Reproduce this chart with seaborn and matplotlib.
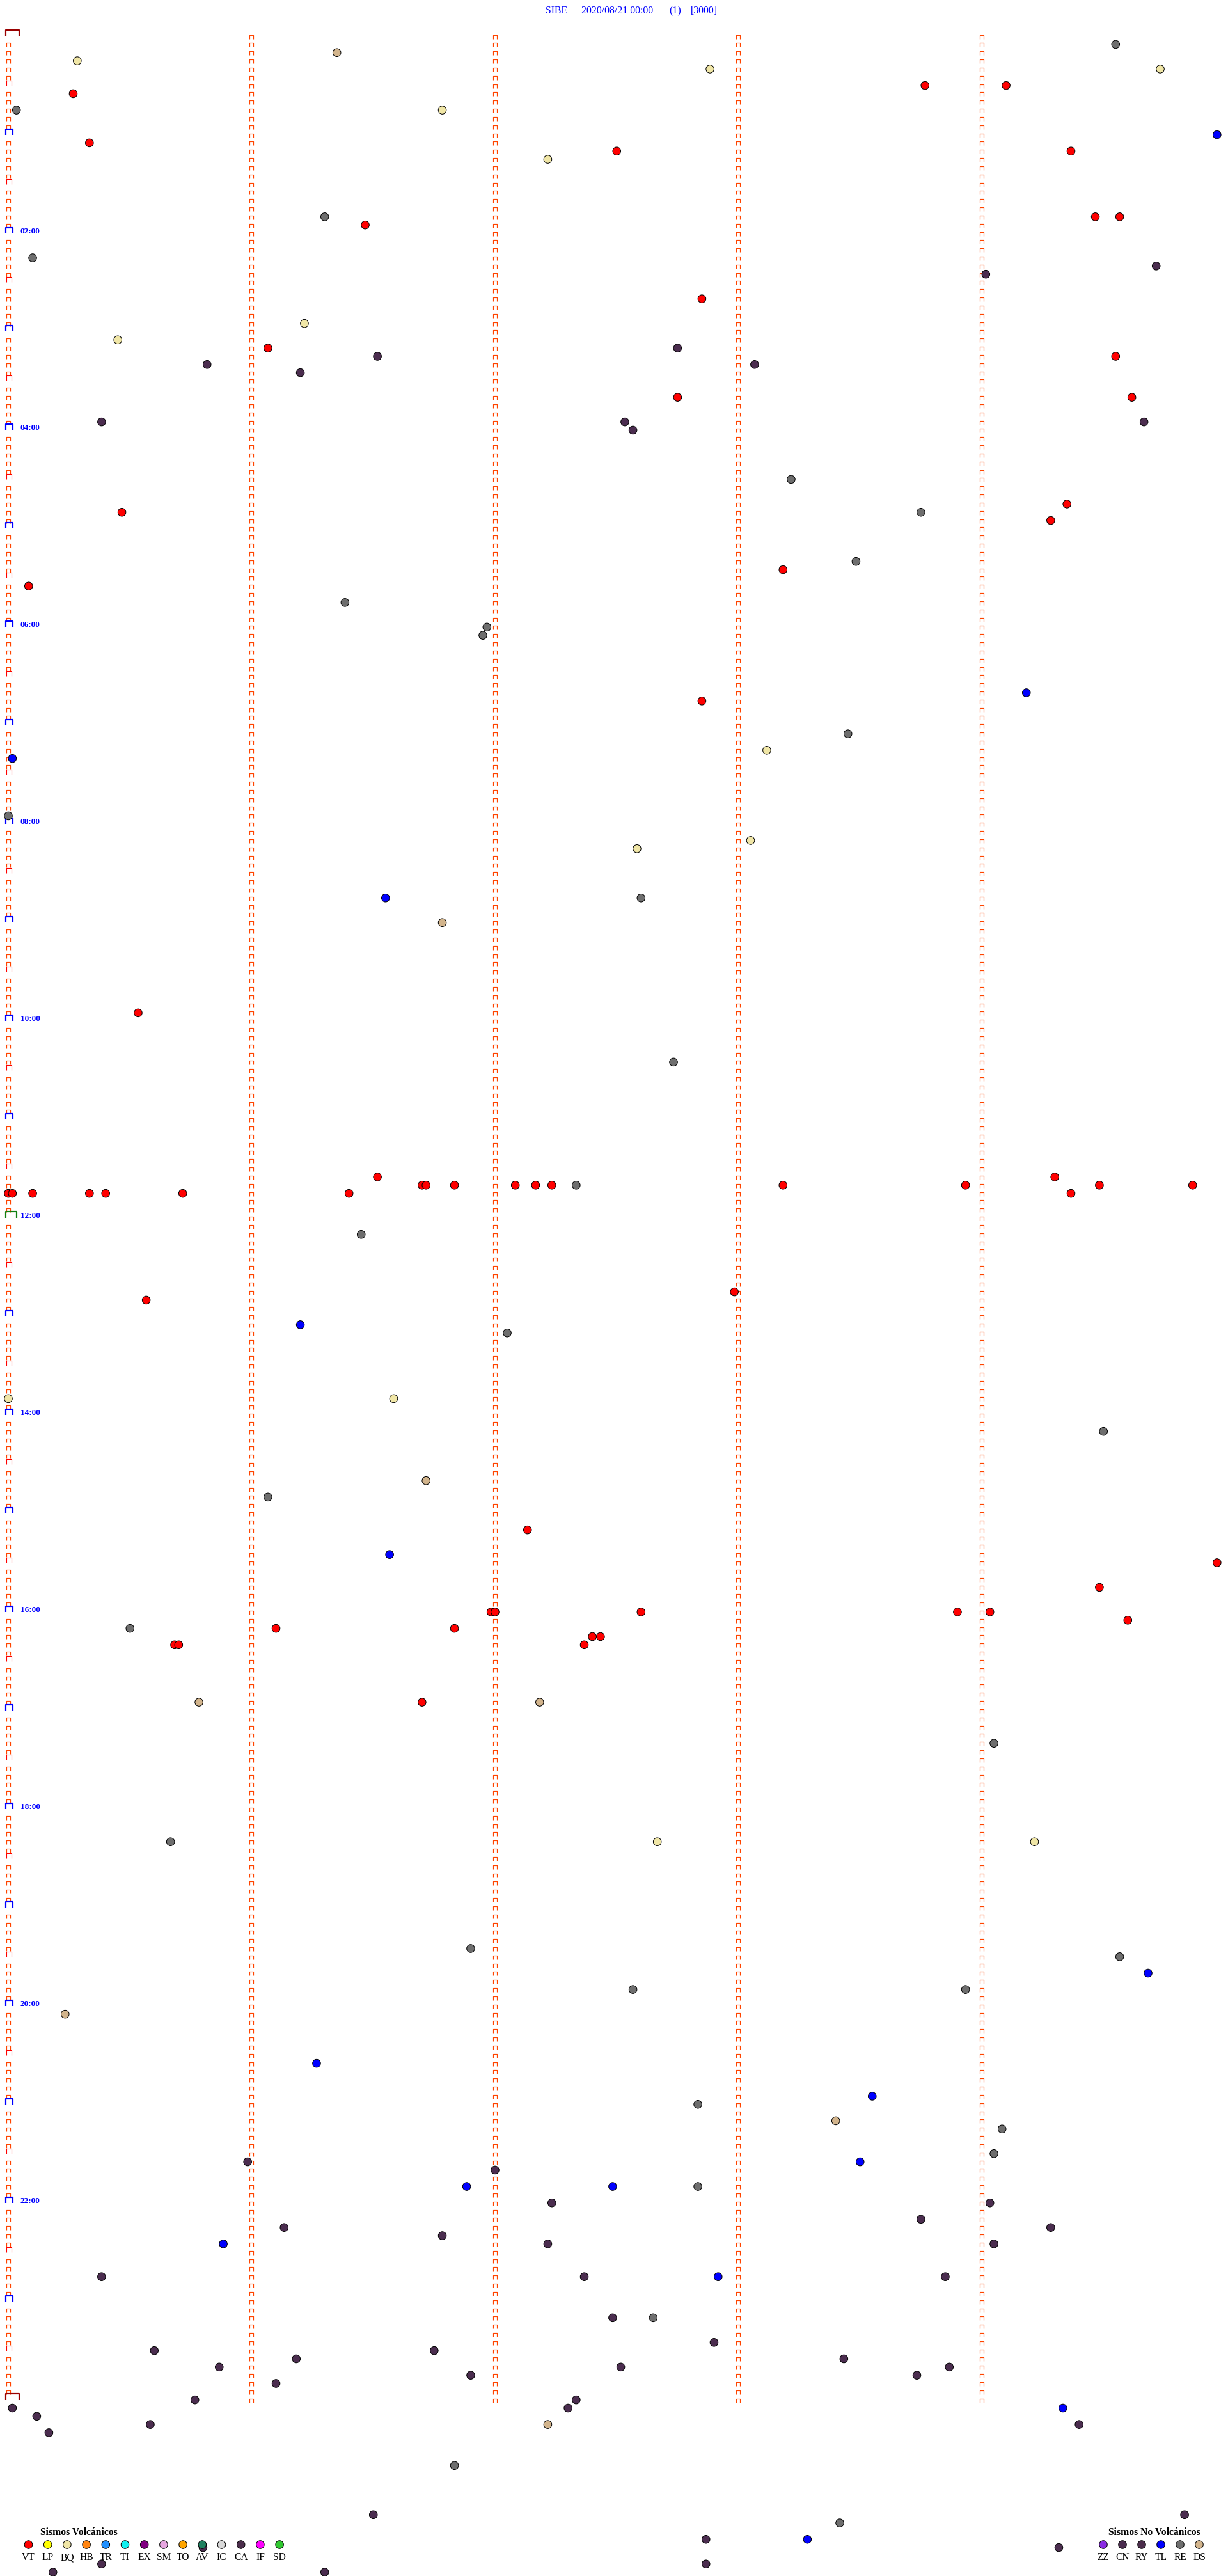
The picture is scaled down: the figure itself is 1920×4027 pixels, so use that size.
import matplotlib
matplotlib.use("Agg")
import matplotlib.pyplot as plt
import numpy as np
import pandas as pd
import seaborn as sns
from matplotlib.path import Path

W, H, DPI = 1920, 4027, 100
PT = 72 / DPI  # points per pixel

# header
station = "SIBE"
start_stamp = "2020/08/21 00:00"
component = "(1)"
gain_label = "[3000]"

# legend categories
volc_codes = ["VT", "LP", "BQ", "HB", "TR", "TI", "EX", "SM", "TO", "AV", "IC", "CA", "IF", "SD"]
volc_colors = ["#FF0000", "#FFFF00", "#F0E6A6", "#FF8410", "#2090FF", "#10F0F0", "#800080",
               "#E6A6E0", "#FFA500", "#208060", "#D8D8D8", "#4B2D4B", "#FF00FF", "#30C830"]
novolc_codes = ["ZZ", "CN", "RY", "TL", "RE", "DS"]
novolc_colors = ["#8A2BE2", "#4B2D4F", "#4B2D4B", "#0000FF", "#6E6E6E", "#D2B48C"]

hour_labels = ["02:00", "04:00", "06:00", "08:00", "10:00", "12:00",
               "14:00", "16:00", "18:00", "20:00", "22:00"]

# events, HH:MM:SS (each drum row is 5 minutes)
vt_times = [
    "00:33:46", "00:34:06", "00:35:16", "01:05:20", "01:12:30", "01:14:22",
    "01:54:28", "01:54:34", "01:56:28", "02:42:51", "03:11:04", "03:19:33",
    "03:42:45", "03:44:37", "04:49:21", "04:50:28", "04:59:17", "05:28:11",
    "05:35:05", "06:47:51", "09:55:32", "11:36:31", "11:39:18",
    "11:41:42", "11:41:43", "11:41:50", "11:42:05", "11:42:10", "11:42:14",
    "11:43:11", "11:43:56", "11:44:29", "11:44:52",
    "11:45:00", "11:45:01", "11:45:06", "11:45:20", "11:45:24", "11:45:43",
    "11:46:24", "11:49:22", "12:47:59", "12:50:34", "15:12:08", "15:34:58",
    "15:49:29", "16:01:59", "16:02:00", "16:02:36", "16:03:54", "16:04:02",
    "16:09:36", "16:11:06", "16:11:50", "16:17:24", "16:17:26", "16:20:41",
    "16:20:42", "16:22:22", "16:56:42",
]
bq_times = [
    "00:15:17", "00:22:53", "00:24:44", "00:46:47", "01:17:13", "02:56:13",
    "03:05:27", "07:18:07", "08:13:03", "08:17:35", "13:50:00", "13:51:35",
    "18:22:40", "18:24:13",
]
re_times = [
    "00:09:33", "00:45:02", "01:51:18", "02:15:06", "04:33:13", "04:53:45",
    "05:23:29", "05:46:23", "06:01:58", "06:06:57", "07:08:27", "07:55:00",
    "08:47:36", "10:27:44", "11:42:20", "12:11:27", "13:12:03", "14:14:30",
    "14:51:04", "16:10:30", "17:24:03", "18:20:40", "19:26:54", "19:34:34",
    "19:52:34", "19:53:56", "21:02:50", "21:19:05", "21:34:03", "21:52:50",
    "23:12:39", "24:41:50", "25:18:25",
]
tl_times = [
    "01:04:58", "06:44:11", "07:20:01", "08:46:33", "13:06:12", "15:26:34",
    "19:44:41", "20:36:16", "20:58:33", "21:38:30", "21:51:53", "21:52:29",
    "22:25:53", "22:47:55", "24:09:20", "25:28:17",
]
ds_times = [
    "00:11:21", "09:01:47", "14:41:43", "16:55:47", "16:57:11", "20:05:14",
    "21:13:24", "24:17:13",
]
cn_times = [
    "02:24:43", "02:29:01", "03:12:45", "03:16:31", "03:20:49", "03:23:04",
    "03:26:12", "03:55:23", "03:57:32", "03:59:40", "04:02:34",
    "21:35:59", "21:42:00", "22:02:14", "22:04:02", "22:13:45", "22:16:08",
    "22:19:17", "22:21:47", "22:27:13", "22:29:03", "22:45:23", "22:47:22",
    "22:48:51", "23:12:29", "23:27:54", "23:30:36", "23:31:45", "23:36:11",
    "23:38:26", "23:40:52", "23:42:31", "23:43:52", "23:46:54", "23:48:44",
    "23:51:06", "24:00:46", "24:02:20", "24:05:01", "24:07:18", "24:10:07",
    "24:15:35", "24:19:24", "24:20:10", "25:11:30", "25:14:50", "25:27:52",
    "25:30:48", "25:34:19", "25:40:23", "25:42:52", "25:45:11", "25:46:18",
]

ROW_SEC = 300
N_ROWS = 288

# drum geometry (pixels)
X0, PX_SEC = 13.0, 380.5 / 60
Y0, PX_HOUR = 56.6, 12.83 * 12


def to_seconds(stamp):
    h, m, s = (int(v) for v in stamp.split(":"))
    return h * 3600 + m * 60 + s


def bracket(left, right, bottom, top):
    verts = [(left, bottom), (left, top), (right, top), (right, bottom)]
    codes = [Path.MOVETO, Path.LINETO, Path.LINETO, Path.LINETO]
    ms = 2 * np.abs(np.array(verts)).max() * PT
    return Path(verts, codes), ms


frames = []
for code, times in [("VT", vt_times), ("BQ", bq_times), ("RE", re_times),
                    ("TL", tl_times), ("DS", ds_times), ("CN", cn_times)]:
    frames.append(pd.DataFrame({"tipo": code, "t": [to_seconds(t) for t in times]}))
events = pd.concat(frames, ignore_index=True).sort_values("t", kind="stable")
events["offset"] = events["t"] % ROW_SEC
events["row_h"] = (events["t"] // ROW_SEC) * ROW_SEC / 3600

palette = dict(zip(volc_codes + novolc_codes, volc_colors + novolc_colors))

sns.set_style("white")
plt.rcParams["font.family"] = ["Liberation Serif", "DejaVu Serif"]

fig = plt.figure(figsize=(W / DPI, H / DPI), dpi=DPI)
fig.patch.set_facecolor("white")
ax = fig.add_axes([0, 0, 1, 1])
ax.axis("off")

# row marks on the drum
rows = np.arange(N_ROWS + 1)
row_h = rows / 12
small, small_ms = bracket(-3, 3, -3.6, 2.4)
for col in np.arange(60, ROW_SEC, 60):
    ax.plot(np.full(len(rows), col), row_h, ls="none", marker=small, ms=small_ms,
            mec="#FF4500", mfc="none", mew=1.2 * PT, zorder=1)

left_styles = [
    (rows % 6 != 0, bracket(-3, 3, -3.6, 2.4), "#FF4500", 1.2),
    ((rows % 6 == 0) & (rows % 12 != 0), bracket(-3.5, 4.5, 0, 8), "#FF0000", 1.1),
    ((rows % 12 == 0) & (rows % 144 != 0), bracket(-4, 7, 0, 9), "#0000FF", 2.2),
    ((rows % 144 == 0) & (rows % 288 != 0), bracket(-4, 13, 0, 10), "#118011", 2.2),
    (rows % 288 == 0, bracket(-4, 17, 0, 10), "#990000", 2.2),
]
for mask, (path, ms), color, lw in left_styles:
    ax.plot(np.zeros(mask.sum()), row_h[mask], ls="none", marker=path, ms=ms,
            mec=color, mfc="none", mew=lw * PT, zorder=1)

for lab in hour_labels:
    hh = int(lab[:2])
    ax.text((32 - X0) / PX_SEC, hh, lab, ha="left", va="baseline", color="#0000FF",
            fontsize=13.3 * PT, fontweight="bold")

sns.scatterplot(data=events, x="offset", y="row_h", hue="tipo", palette=palette,
                s=(12.5 * PT) ** 2, edgecolor="black", linewidth=1.0 * PT,
                legend=False, ax=ax, zorder=3)

ax.set_xlim(-X0 / PX_SEC, (W - X0) / PX_SEC)
ax.set_ylim((H - Y0) / PX_HOUR, -Y0 / PX_HOUR)
ax.set_xlabel("")
ax.set_ylabel("")

# header and legends in pixel space
lax = fig.add_axes([0, 0, 1, 1], facecolor="none")
lax.set_xlim(0, W)
lax.set_ylim(H, 0)
lax.axis("off")

title_parts = [(853, station), (909, start_stamp), (1046, component), (1080, gain_label)]
for xp, txt in title_parts:
    lax.text(xp, 21, txt, ha="left", va="baseline", color="#0000FF", fontsize=15.8 * PT)

legend_rows = [
    ("Sismos Volcánicos", 63, 44.5, 30.2, volc_codes),
    ("Sismos No Volcánicos", 1733, 1725, 30.0, novolc_codes),
]
for head, head_x, x_start, step, codes in legend_rows:
    lax.text(head_x, 3963, head, ha="left", va="baseline", color="black",
             fontsize=15.6 * PT, fontweight="bold")
    leg = pd.DataFrame({"tipo": codes, "x": x_start + step * np.arange(len(codes)),
                        "y": 3978.0})
    sns.scatterplot(data=leg, x="x", y="y", hue="tipo", palette=palette,
                    s=(12.5 * PT) ** 2, edgecolor="black", linewidth=1.0 * PT,
                    legend=False, ax=lax, zorder=3)
    for _, r in leg.iterrows():
        lax.text(r["x"], 4002, r["tipo"], ha="center", va="baseline", color="black",
                 fontsize=15.5 * PT)
lax.set_xlim(0, W)
lax.set_ylim(H, 0)
lax.set_xlabel("")
lax.set_ylabel("")

fig.savefig("out.png", dpi=DPI, facecolor="white")
